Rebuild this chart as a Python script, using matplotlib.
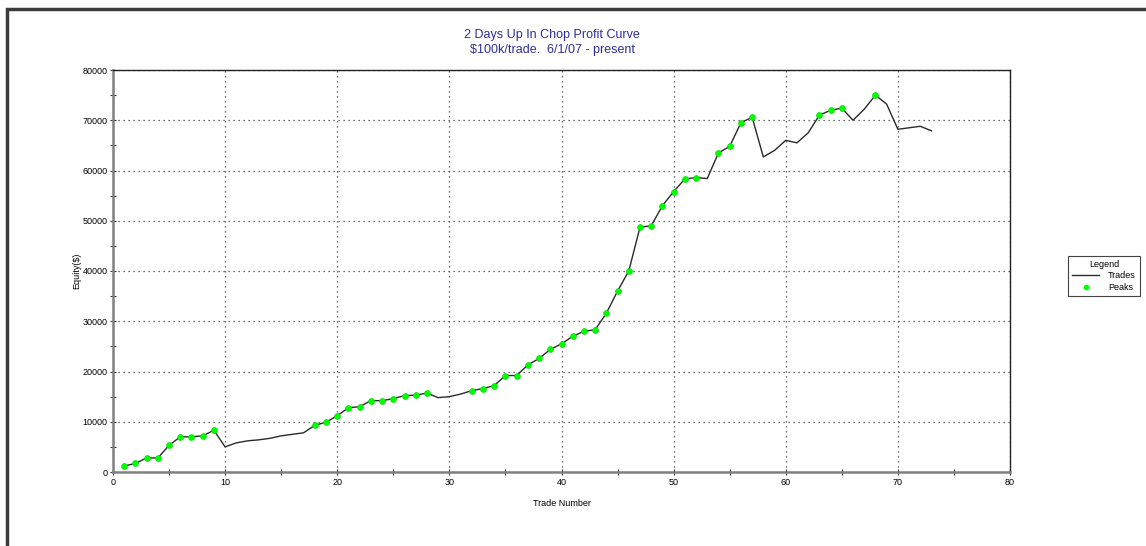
import numpy as np
import matplotlib.pyplot as plt
from matplotlib.lines import Line2D
from matplotlib.patches import Rectangle
from matplotlib.ticker import MultipleLocator

plt.rcParams['font.family'] = ['Liberation Sans', 'DejaVu Sans']

# equity after each trade
trade_num = list(range(1, 74))
equity = [
    1200, 1700, 2800, 2800, 5300, 7000, 7000, 7200, 8300, 5000,
    5800, 6200, 6400, 6700, 7200, 7500, 7800, 9300, 9900, 11200,
    12800, 13000, 14200, 14200, 14600, 15200, 15300, 15700, 14800, 15000,
    15500, 16200, 16600, 17200, 19200, 19200, 21300, 22600, 24400, 25500,
    27000, 28000, 28300, 31600, 36000, 40000, 48700, 49000, 53000, 55800,
    58300, 58600, 58400, 63500, 64800, 69500, 70600, 62700, 64000, 66000,
    65500, 67500, 71000, 72000, 72400, 70000, 72200, 75000, 73200, 68200,
    68500, 68800, 67900,
]
title_lines = ["2 Days Up In Chop Profit Curve", "$100k/trade.  6/1/07 - present"]

x = np.array(trade_num)
y = np.array(equity)
# peaks = trades that reach (or tie) the equity high so far
run_max = np.maximum.accumulate(y)
is_peak = np.r_[True, y[1:] >= run_max[:-1]]

fig = plt.figure(figsize=(11.46, 5.46), dpi=100)
ax = fig.add_axes([113 / 1146, 1 - 472 / 546, 897 / 1146, 402 / 546])

ax.plot(x, y, color='#2a2a2a', lw=1.0, zorder=3)
ax.plot(x[is_peak], y[is_peak], 'o', color='#00ff00', ms=4.2, mec='#00e000',
        mew=0.5, zorder=4)

ax.set_xlim(0, 80)
ax.set_ylim(0, 80000)
ax.xaxis.set_major_locator(MultipleLocator(10))
ax.xaxis.set_minor_locator(MultipleLocator(5))
ax.yaxis.set_major_locator(MultipleLocator(10000))
ax.yaxis.set_minor_locator(MultipleLocator(5000))
ax.grid(True, which='major', color='#444444', ls=(0, (1, 3)), lw=0.9)
ax.tick_params(which='both', labelsize=6.5, direction='inout', color='#333333')
ax.tick_params(which='major', length=5, width=0.8, pad=1.5)
ax.tick_params(which='minor', length=5, width=0.8)

for side in ('left', 'bottom'):
    ax.spines[side].set_color('#808080')
    ax.spines[side].set_linewidth(1.8)
for side in ('top', 'right'):
    ax.spines[side].set_color('#222222')
    ax.spines[side].set_linewidth(1.0)

ax.set_xlabel('Trade Number', fontsize=6.5, labelpad=9)
ax.set_ylabel('Equity($)', fontsize=6.5, labelpad=1)

fig.text(552 / 1146, 1 - 35 / 546, title_lines[0], ha='center', va='center',
         fontsize=9, color='#2e2e99')
fig.text(552 / 1146, 1 - 50 / 546, title_lines[1], ha='center', va='center',
         fontsize=9, color='#2e2e99')

handles = [Line2D([], [], color='#2a2a2a', lw=1.0),
           Line2D([], [], ls='none', marker='o', color='#00ff00', ms=3)]
leg = fig.legend(handles, ['Trades', 'Peaks'], title='Legend',
                 loc='center', bbox_to_anchor=(1104 / 1146, 1 - 276 / 546),
                 fontsize=6.5, title_fontsize=6.5, fancybox=False,
                 edgecolor='#444444', framealpha=1, borderpad=0.4,
                 handlelength=3.0, handletextpad=1.0, labelspacing=0.3,
                 borderaxespad=0, markerfirst=True)
leg.get_frame().set_linewidth(0.8)

# dark outer border of the chart window
fig.patches.append(Rectangle((7 / 1146, -0.02), 1.1, 1 - 9 / 546 + 0.02,
                             transform=fig.transFigure, fill=False,
                             edgecolor='#3c3c3c', lw=2.5))

fig.savefig('out.png', dpi=100)
